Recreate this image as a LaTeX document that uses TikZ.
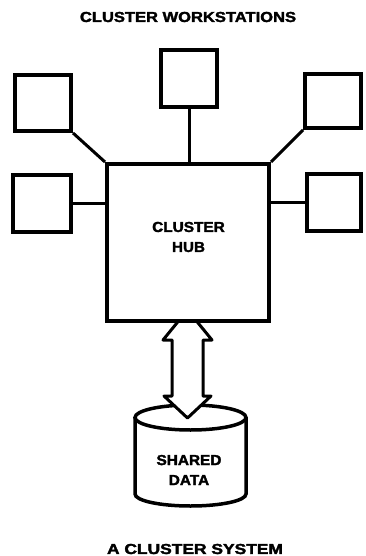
\documentclass[tikz,border=0pt]{standalone}
\usepackage{fontspec}
\setmainfont{Liberation Sans}
\newfontfamily\heavy{Liberation Sans Bold}[FakeBold=2]
\newcommand{\wx}[2]{\scalebox{#1}[1]{#2}}
\begin{document}
\begin{tikzpicture}[x=1pt,y=-1pt,
  box/.style={draw, line width=4pt, fill=white, inner sep=0pt},
  wire/.style={line width=3pt},
  lbl/.style={font=\fontsize{14.5}{20}\heavy, align=center, inner sep=0pt},
  bigarrow/.style={draw, line width=3pt, fill=white, line join=round},
  drum/.style={line width=3.5pt}]
\useasboundingbox (0,0) rectangle (365,556);
% title
\node[lbl] (title) at (188,17) {\wx{1.14}{CLUSTER WORKSTATIONS}};
% shared data cylinder
\draw[drum, fill=white] (135,417.5) -- (135,494) arc[start angle=180, end angle=0, x radius=55.5, y radius=12] -- (246,417.5);
\draw[drum] (190.5,417.5) ellipse[x radius=55.5, y radius=12.5];
\node[lbl] (db) at (189,470) {\wx{1.06}{SHARED}\\\wx{1.06}{DATA}};
% double arrow between hub and shared data
\coordinate (lnk) at (187.5,364);
\begin{scope}[shift={(lnk)}]
\draw[bigarrow] (0,-54) -- (24.5,-24) -- (15.5,-24) -- (15.5,32) -- (23.5,32)
  -- (0,54) -- (-23.5,32) -- (-15.5,32) -- (-15.5,-24) -- (-24.5,-24) -- cycle;
\end{scope}
% workstations
\node[box, minimum width=56pt, minimum height=56pt] (tl) at (43,103) {};
\node[box, minimum width=56pt, minimum height=57pt] (tc) at (189,78.5) {};
\node[box, minimum width=56pt, minimum height=54pt] (tr) at (333,101) {};
\node[box, minimum width=58pt, minimum height=57pt] (ml) at (42,203.5) {};
\node[box, minimum width=54pt, minimum height=57pt] (mr) at (334,202.5) {};
% hub
\node[box, minimum width=162pt, minimum height=157pt] (hub) at (188,242.5) {};
\node[lbl] (hubtxt) at (188.5,237) {\wx{1.06}{CLUSTER}\\\wx{1.05}{HUB}};
% connectors
\draw[wire] (tl.south east) -- (hub.north west);
\draw[wire] (tr.south west) -- (hub.north east);
\draw[wire] (tc.south) -- (tc.south |- hub.north);
\draw[wire] (ml.east) -- (ml.east -| hub.west);
\draw[wire] (mr.west) -- (mr.west -| hub.east);
% caption
\node[lbl] (caption) at (195,549) {\wx{1.2}{A CLUSTER SYSTEM}};
\end{tikzpicture}
\end{document}
